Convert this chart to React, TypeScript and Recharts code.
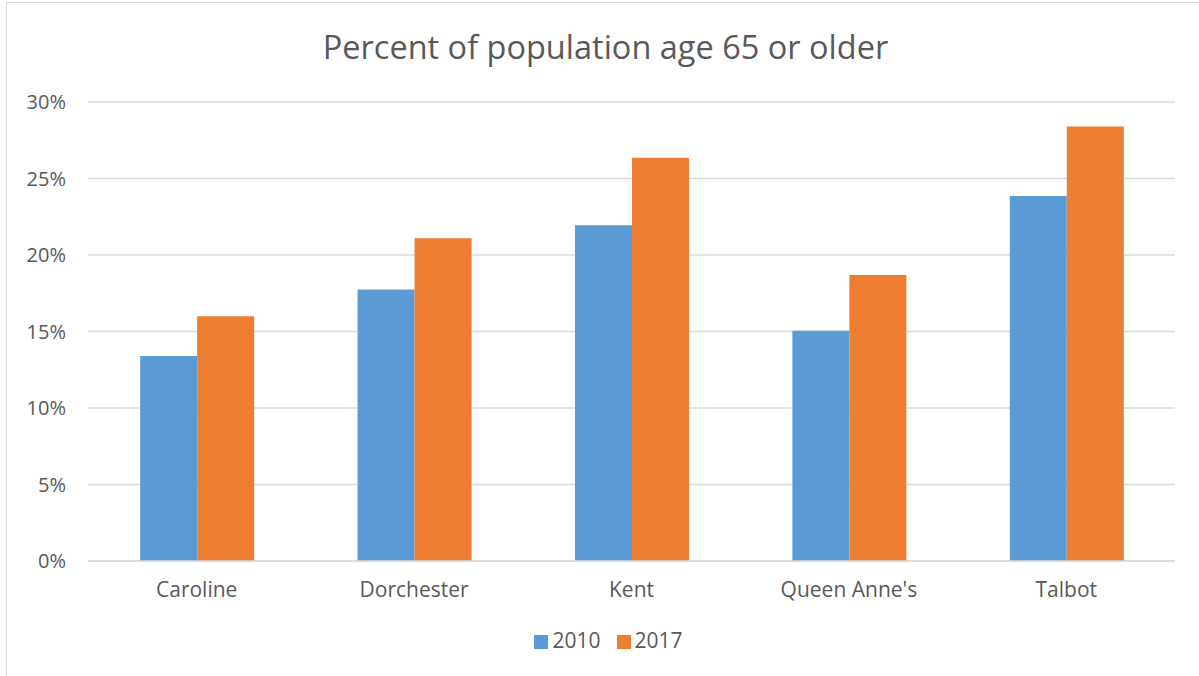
import { BarChart, Bar, XAxis, YAxis, CartesianGrid, Legend } from 'recharts'

const COUNTIES = ['Caroline', 'Dorchester', 'Kent', "Queen Anne's", 'Talbot']
const Y2010 = [13.4, 17.75, 21.95, 15.05, 23.85]
const Y2017 = [16.0, 21.1, 26.35, 18.7, 28.4]
const Y_TICKS = [0, 5, 10, 15, 20, 25, 30]

const data = COUNTIES.map((county, i) => ({ county, y2010: Y2010[i], y2017: Y2017[i] }))

const TEXT = '#595959'
const FONT = '"Open Sans", sans-serif'

export default function App() {
  return (
    <div style={{ position: 'fixed', left: 0, top: 0, width: 1199, height: 676, background: '#fff', overflow: 'hidden', fontFamily: FONT }}>
      <div style={{ position: 'absolute', left: 6, top: 2, width: 1300, height: 800, border: '1.5px solid #d9d9d9' }} />
      <div style={{ position: 'absolute', left: 0, top: 24, width: 1211, textAlign: 'center', fontSize: 32.5, color: TEXT }}>
        Percent of population age 65 or older
      </div>
      <BarChart
        width={1199}
        height={676}
        data={data}
        margin={{ top: 102, right: 24, bottom: 57, left: 18 }}
        barCategoryGap="24%"
        barGap={0}
        style={{ position: 'absolute', left: 0, top: 0 }}
      >
        <CartesianGrid vertical={false} stroke="#d9d9d9" strokeWidth={1.5} />
        <XAxis
          dataKey="county"
          axisLine={{ stroke: '#d9d9d9', strokeWidth: 1.5 }}
          tickLine={false}
          tickMargin={15}
          tick={{ fill: TEXT, fontSize: 21, fontFamily: FONT }}
        />
        <YAxis
          width={70}
          domain={[0, 30]}
          ticks={Y_TICKS}
          axisLine={false}
          tickLine={false}
          tickMargin={16}
          tickFormatter={(v: number) => `${v}%`}
          tick={{ fill: TEXT, fontSize: 20, fontFamily: FONT }}
        />
        <Legend
          iconType="square"
          iconSize={14}
          wrapperStyle={{ position: 'absolute', top: 626, left: 0, width: 1233, fontSize: 21, fontFamily: FONT }}
          formatter={(value: string) => <span style={{ color: TEXT, marginRight: 6 }}>{value}</span>}
        />
        <Bar dataKey="y2010" name="2010" fill="#5b9bd5" isAnimationActive={false} />
        <Bar dataKey="y2017" name="2017" fill="#ed7d31" isAnimationActive={false} />
      </BarChart>
    </div>
  )
}
